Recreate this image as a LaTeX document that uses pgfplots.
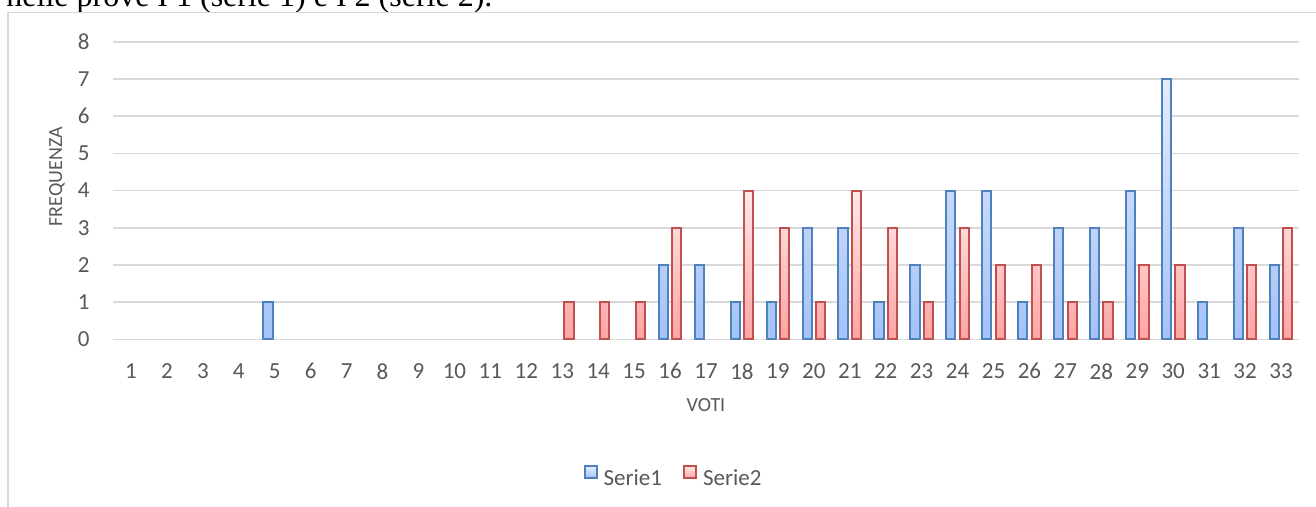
\documentclass[border=0pt]{standalone}
\usepackage{fontspec}
\setmainfont{Carlito}
\newfontfamily\timesfont{Liberation Serif}
\usepackage{pgfplots}
\pgfplotsset{compat=1.18}
\definecolor{gridgray}{HTML}{D9D9D9}
\definecolor{framegray}{HTML}{D9D9D9}
\definecolor{txtgray}{HTML}{595959}
\definecolor{blueline}{HTML}{4F81BD}
\definecolor{redline}{HTML}{C0504D}
\definecolor{bluetop}{HTML}{E3ECFC}
\definecolor{bluebot}{HTML}{A3C2F8}
\definecolor{redtop}{HTML}{FFE8E8}
\definecolor{redbot}{HTML}{FFA3A3}

\pgfplotstableread{
x y
5 1
16 2
17 2
18 1
19 1
20 3
21 3
22 1
23 2
24 4
25 4
26 1
27 3
28 3
29 4
30 7
31 1
32 3
33 2
}\serieone
\pgfplotstableread{
x y
13 1
14 1
15 1
16 3
18 4
19 3
20 1
21 4
22 3
23 1
24 3
25 2
26 2
27 1
28 1
29 2
30 2
32 2
33 3
}\serietwo

\begin{document}
\begin{tikzpicture}[x=1pt,y=1pt]
\useasboundingbox (0,0) rectangle (658,253.5);
\clip (0,0) rectangle (658,253.5);
\fill[white] (0,0) rectangle (658,253.5);
\node[anchor=base west, inner sep=0pt, font=\timesfont\fontsize{16}{19}\selectfont] at (3,250) {nelle prove I 1 (serie 1) e I 2 (serie 2).};
\draw[framegray, line width=0.75pt] (4,-10) rectangle (670,247.15);
\begin{axis}[
  at={(56.5pt,83.75pt)}, anchor=south west,
  scale only axis, width=593pt, height=148.9pt,
  xmin=0.5, xmax=33.5, ymin=0, ymax=8,
  ybar=2.1pt, bar width=4.6pt,
  clip=false,
  axis line style={draw=none},
  major tick length=0pt,
  xtick={1,...,33}, ytick={0,...,8},
  ymajorgrids, grid style={gridgray, line width=0.85pt},
  tick label style={font=\fontsize{11.5}{13}\selectfont, text=txtgray},
  /pgf/number format/assume math mode=true,
  xticklabel style={inner sep=0pt, yshift=-11.75pt},
  yticklabel style={inner sep=0pt, xshift=-11.5pt},
  xlabel={VOTI}, ylabel={FREQUENZA},
  xlabel style={at={(axis description cs:0.5,-0.2216)}, anchor=center, inner sep=0pt, font=\fontsize{10}{12}\selectfont, text=txtgray},
  ylabel style={at={(axis description cs:-0.0472,0.5467)}, anchor=center, rotate=0, inner sep=0pt, font=\fontsize{10}{12}\selectfont, text=txtgray},
  legend columns=2,
  legend image code/.code={\draw[#1] (0pt,0.5pt) rectangle (6pt,6.5pt);},
  legend style={at={(axis description cs:0.4718,-0.4617)}, anchor=center, draw=none, fill=none, inner sep=0pt,
    font=\fontsize{11.5}{13}\selectfont, text=txtgray, nodes={inner sep=0pt},
    /tikz/column 1/.style={column sep=3pt},
    /tikz/column 3/.style={column sep=3pt},
    /tikz/column 2/.style={column sep=10.5pt}},
]
\addplot[draw=blueline, line width=1pt, top color=bluetop, bottom color=bluebot] table[x=x,y=y] {\serieone};
\addplot[draw=redline, line width=1pt, top color=redtop, bottom color=redbot] table[x=x,y=y] {\serietwo};
\legend{Serie1, Serie2}
\end{axis}
\end{tikzpicture}
\end{document}
